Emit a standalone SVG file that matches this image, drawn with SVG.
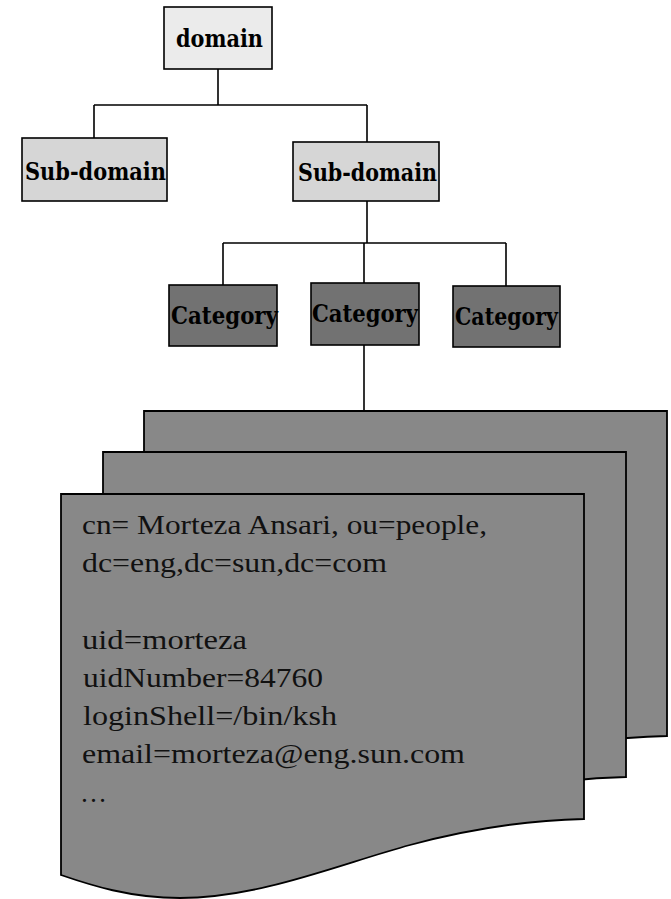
<svg xmlns="http://www.w3.org/2000/svg" width="671" height="899" viewBox="0 0 671 899">
  <style>
    .box { stroke: #000; stroke-width: 1.6; }
    .lbl { font-family: "DejaVu Serif", "Liberation Serif", serif; font-weight: bold; font-size: 24px; fill: #000; }
    .entry { font-family: "Liberation Serif", "DejaVu Serif", serif; font-size: 27px; fill: #111; }
    .wire { stroke: #000; stroke-width: 1.6; fill: none; }
    .page { fill: #888888; stroke: #000; stroke-width: 1.8; }
  </style>
  <defs>
    <!-- document sheet with wavy bottom edge -->
    <path id="sheet" d="M61,494 H584 V819 C540,820 480,826 410,845 C340,864 260,898 180,898 C130,898 90,885 61,875 Z"/>
  </defs>

  <rect width="671" height="899" fill="#fff"/>

  <g id="connectors">
    <path class="wire" d="M218,69 V105 M94,105 H367 M94,105 V138 M367,105 V142"/>
    <path class="wire" d="M367,201 V243" stroke-width="3"/>
    <path class="wire" d="M223,243 H506 M223,243 V285 M364,243 V283 M506,243 V286"/>
    <path class="wire" d="M364,345 V411"/>
  </g>

  <g id="domain">
    <rect class="box" x="164" y="7" width="108" height="62" fill="#ebebeb"/>
    <text class="lbl" x="176" y="47" textLength="87" lengthAdjust="spacingAndGlyphs">domain</text>
  </g>

  <g id="subdomain-left">
    <rect class="box" x="22" y="138" width="145" height="63" fill="#d6d6d6"/>
    <text class="lbl" x="25" y="180" textLength="141" lengthAdjust="spacingAndGlyphs">Sub-domain</text>
  </g>

  <g id="subdomain-right">
    <rect class="box" x="293" y="142" width="146" height="59" fill="#d6d6d6"/>
    <text class="lbl" x="298" y="181" textLength="139" lengthAdjust="spacingAndGlyphs">Sub-domain</text>
  </g>

  <g id="category-left">
    <rect class="box" x="169" y="285" width="108" height="61" fill="#727272"/>
    <text class="lbl" x="171" y="324" textLength="107" lengthAdjust="spacingAndGlyphs">Category</text>
  </g>

  <g id="category-middle">
    <rect class="box" x="311" y="283" width="108" height="62" fill="#727272"/>
    <text class="lbl" x="312" y="322" textLength="106" lengthAdjust="spacingAndGlyphs">Category</text>
  </g>

  <g id="category-right">
    <rect class="box" x="453" y="286" width="107" height="61" fill="#727272"/>
    <text class="lbl" x="455" y="325" textLength="103" lengthAdjust="spacingAndGlyphs">Category</text>
  </g>

  <g id="entries">
    <use href="#sheet" class="page" transform="translate(83,-83)"/>
    <use href="#sheet" class="page" transform="translate(42,-42)"/>
    <use href="#sheet" class="page"/>
    <text class="entry" x="82" y="534" textLength="405" lengthAdjust="spacingAndGlyphs">cn= Morteza Ansari, ou=people,</text>
    <text class="entry" x="82" y="572" textLength="305" lengthAdjust="spacingAndGlyphs">dc=eng,dc=sun,dc=com</text>
    <text class="entry" x="82" y="649" textLength="165" lengthAdjust="spacingAndGlyphs">uid=morteza</text>
    <text class="entry" x="83" y="687" textLength="240" lengthAdjust="spacingAndGlyphs">uidNumber=84760</text>
    <text class="entry" x="83" y="725" textLength="254" lengthAdjust="spacingAndGlyphs">loginShell=/bin/ksh</text>
    <text class="entry" x="82" y="763" textLength="383" lengthAdjust="spacingAndGlyphs">email=morteza@eng.sun.com</text>
    <text class="entry" x="80" y="802" font-size="20">…</text>
  </g>
</svg>
